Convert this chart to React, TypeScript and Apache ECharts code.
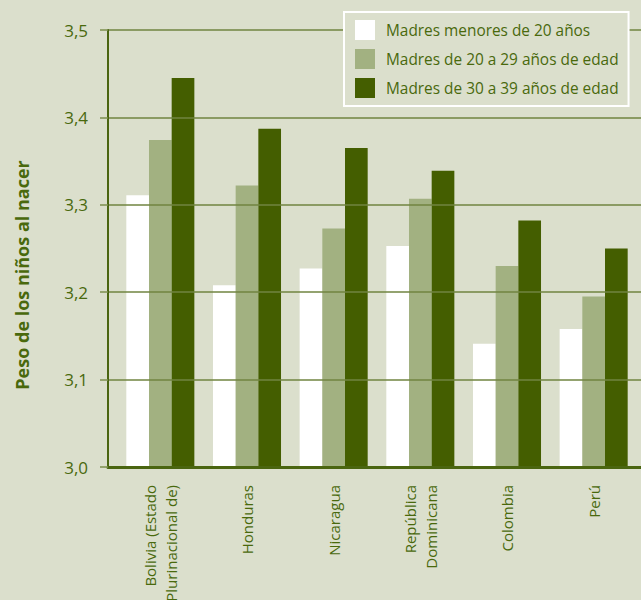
import React, { useEffect, useRef } from "react";
import * as echarts from "echarts";

const categories = [
  "Bolivia (Estado\nPlurinacional de)",
  "Honduras",
  "Nicaragua",
  "República\nDominicana",
  "Colombia",
  "Perú",
];
const seriesNames = [
  "Madres menores de 20 años",
  "Madres de 20 a 29 años de edad",
  "Madres de 30 a 39 años de edad",
];
const menores20 = [3.311, 3.208, 3.227, 3.253, 3.141, 3.158];
const de20a29 = [3.374, 3.322, 3.273, 3.307, 3.23, 3.195];
const de30a39 = [3.445, 3.387, 3.365, 3.339, 3.282, 3.25];
const yMin = 3.0;
const yMax = 3.5;
const yStep = 0.1;
const yTitle = "Peso de los niños al nacer";

const BG = "#dbdfcc";
const GREEN_TEXT = "#49690c";
const AXIS = "#4a6510";
const GRIDLINE = "#718440";
const colors = ["#ffffff", "#a2b181", "#445e00"];
const FONT = "Open Sans";

export default function App() {
  const ref = useRef<HTMLDivElement>(null);
  useEffect(() => {
    if (!ref.current) return;
    const chart = echarts.init(ref.current, undefined, { renderer: "svg" });
    const values = [menores20, de20a29, de30a39];
    chart.setOption({
      animation: false,
      backgroundColor: BG,
      textStyle: { fontFamily: FONT },
      grid: [
        { left: 108, right: 0, top: 30, bottom: 133, outerBoundsMode: "none", containLabel: false },
        { left: 117, right: 4, top: 30, bottom: 133, outerBoundsMode: "none", containLabel: false },
      ],
      xAxis: [
        {
          type: "value",
          gridIndex: 0,
          min: 0,
          max: 1,
          z: 6,
          axisLine: { show: true, lineStyle: { color: AXIS, width: 3 } },
          axisTick: { show: false },
          axisLabel: { show: false },
          splitLine: { show: false },
        },
        {
          type: "category",
          gridIndex: 1,
          data: categories,
          axisLine: { show: false },
          axisTick: { show: false },
          axisLabel: {
            rotate: 90,
            margin: 18,
            color: GREEN_TEXT,
            fontSize: 15,
            lineHeight: 21,
            fontFamily: FONT,
            interval: 0,
          },
        },
      ],
      yAxis: [
        {
          type: "value",
          gridIndex: 0,
          min: yMin,
          max: yMax,
          interval: yStep,
          z: 6,
          axisLine: { show: true, lineStyle: { color: AXIS, width: 2 } },
          axisTick: {
            show: true,
            length: 8,
            lineStyle: { color: "#7d8f4e", width: 1.5 },
          },
          axisLabel: {
            margin: 20,
            color: GREEN_TEXT,
            fontSize: 17,
            fontFamily: FONT,
            formatter: (v: number) => v.toFixed(1).replace(".", ","),
          },
          splitLine: { show: true, lineStyle: { color: GRIDLINE, width: 1.5 } },
        },
        {
          type: "value",
          gridIndex: 1,
          min: yMin,
          max: yMax,
          show: false,
          splitLine: { show: false },
        },
      ],
      legend: {
        data: seriesNames,
        orient: "vertical",
        left: 344,
        top: 12,
        z: 20,
        itemWidth: 20,
        itemHeight: 20,
        itemGap: 9,
        padding: [8, 10, 8, 11],
        backgroundColor: BG,
        borderColor: "#ffffff",
        borderWidth: 2,
        icon: "rect",
        textStyle: {
          color: GREEN_TEXT,
          fontSize: 15.4,
          fontFamily: FONT,
          padding: [0, 0, 0, 6],
        },
      },
      graphic: [
        {
          type: "text",
          x: 22,
          y: 275,
          rotation: Math.PI / 2,
          style: {
            text: yTitle,
            fill: GREEN_TEXT,
            font: `bold 18px "${FONT}"`,
            align: "center",
            verticalAlign: "middle",
          },
        },
      ],
      series: seriesNames.map((name, i) => ({
        name,
        type: "bar",
        xAxisIndex: 1,
        yAxisIndex: 1,
        data: values[i],
        barGap: "0%",
        barCategoryGap: "21.5%",
        itemStyle: { color: colors[i] },
      })),
    });
    return () => chart.dispose();
  }, []);
  return (
    <div
      ref={ref}
      style={{ position: "fixed", left: 0, top: 0, width: 641, height: 600 }}
    />
  );
}
